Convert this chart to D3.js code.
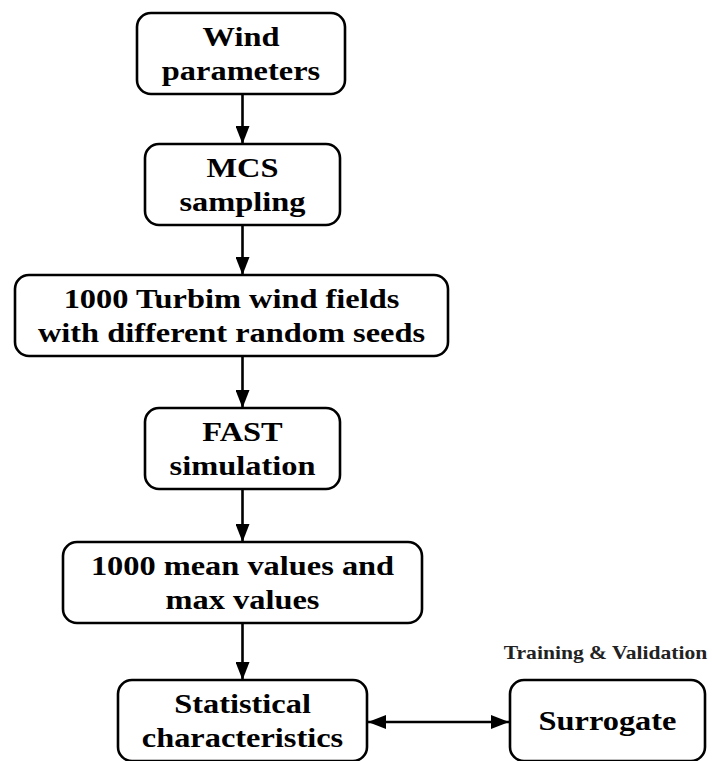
<!DOCTYPE html>
<html>
<head>
<meta charset="utf-8">
<script src="https://cdn.jsdelivr.net/npm/d3@7"></script>
<style>
  html, body { margin: 0; padding: 0; background: #fff; }
  svg { display: block; }
</style>
</head>
<body>
<div id="chart"></div>
<script>
// Flow steps (top to bottom), each with its text lines
const steps = ["wind", "mcs", "turbsim", "fast", "values", "stats"];
const stepLines = [
    ["Wind", "parameters"],
    ["MCS", "sampling"],
    ["1000 Turbim wind fields", "with different random seeds"],
    ["FAST", "simulation"],
    ["1000 mean values and", "max values"],
    ["Statistical", "characteristics"]
];
const sideLines = ["Surrogate"];
const sideCaption = "Training & Validation";

const width = 712;
const height = 761;

// layout
const boxH = 81;
const boxW = [208, 195, 433, 195, 359, 249];
const boxCx = [241, 242.5, 231.5, 242.5, 242.5, 242.5];
const sideBox = { cx: 607.5, w: 195 };
const lineGap = 34;
const stretch = 1.2; // the source figure is stretched horizontally

const y = d3.scaleLinear()
    .domain([0, 1, 2, 3, 4, 5])
    .range([13, 144, 275, 408, 542, 680]);

const svg = d3.select("#chart").append("svg")
    .attr("width", width)
    .attr("height", height);

const defs = svg.append("defs");
defs.append("marker")
    .attr("id", "arrow")
    .attr("viewBox", "0 0 18 14")
    .attr("refX", 18)
    .attr("refY", 7)
    .attr("markerWidth", 18)
    .attr("markerHeight", 14)
    .attr("markerUnits", "userSpaceOnUse")
    .attr("orient", "auto-start-reverse")
    .append("path")
    .attr("d", "M0,0 L18,7 L0,14 Z")
    .attr("fill", "#000");

const font = "'Liberation Serif', 'Times New Roman', serif";

function drawBox(g, cx, top, w, lines) {
    g.append("rect")
        .attr("x", cx - w / 2)
        .attr("y", top)
        .attr("width", w)
        .attr("height", boxH)
        .attr("rx", 14)
        .attr("fill", "#fff")
        .attr("stroke", "#000")
        .attr("stroke-width", 2.6);

    const mid = top + boxH / 2;
    const first = mid - (lines.length - 1) * lineGap / 2;
    g.selectAll("text.lbl")
        .data(lines)
        .join("text")
        .attr("class", "lbl")
        .attr("transform", (d, i) => `translate(${cx},${first + i * lineGap + 9}) scale(${stretch},1)`)
        .attr("text-anchor", "middle")
        .style("font-family", font)
        .style("font-weight", "bold")
        .style("font-size", "27px")
        .style("fill", "#000")
        .text(d => d);
}

// vertical arrows between consecutive steps
const links = d3.pairs(d3.range(steps.length));
svg.selectAll("line.link")
    .data(links)
    .join("line")
    .attr("class", "link")
    .attr("x1", 242.5)
    .attr("x2", 242.5)
    .attr("y1", d => y(d[0]) + boxH)
    .attr("y2", d => y(d[1]))
    .attr("stroke", "#000")
    .attr("stroke-width", 2.6)
    .attr("marker-end", "url(#arrow)");

steps.forEach((s, i) => {
    drawBox(svg.append("g").attr("class", "step " + s), boxCx[i], y(i), boxW[i], stepLines[i]);
});

// side surrogate box
const last = steps.length - 1;
drawBox(svg.append("g").attr("class", "side"), sideBox.cx, y(last), sideBox.w, sideLines);

// two-way arrow
const arrowY = y(last) + 42;
svg.append("line")
    .attr("x1", boxCx[last] + boxW[last] / 2 + 1)
    .attr("x2", sideBox.cx - sideBox.w / 2 - 1)
    .attr("y1", arrowY)
    .attr("y2", arrowY)
    .attr("stroke", "#000")
    .attr("stroke-width", 2.6)
    .attr("marker-start", "url(#arrow)")
    .attr("marker-end", "url(#arrow)");

svg.append("text")
    .attr("transform", `translate(${sideBox.cx - 2},${y(last) - 21}) scale(${stretch},1)`)
    .attr("text-anchor", "middle")
    .style("font-family", font)
    .style("font-weight", "bold")
    .style("font-size", "18px")
    .style("fill", "#222")
    .text(sideCaption);
</script>
</body>
</html>
